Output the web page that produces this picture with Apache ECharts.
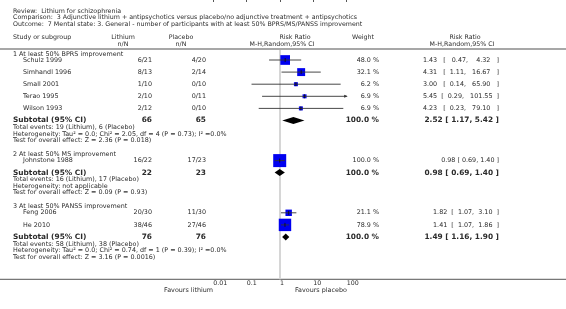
<!DOCTYPE html>
<html><head><meta charset="utf-8">
<script src="https://cdn.jsdelivr.net/npm/echarts@6/dist/echarts.min.js"></script>
<style>html,body{margin:0;padding:0;background:#fff}#c{width:566px;height:309px}</style>
</head><body><div id="c"></div>
<script>
// ---------- data ----------
const reviewTitle = "Review:  Lithium for schizophrenia";
const comparisonTitle = "Comparison:  3 Adjunctive lithium + antipsychotics versus placebo/no adjunctive treatment + antipsychotics";
const outcomeTitle = "Outcome:  7 Mental state: 3. General - number of participants with at least 50% BPRS/MS/PANSS improvement";

const groupLabels = ["1 At least 50% BPRS improvement", "2 At least 50% MS improvement", "3 At least 50% PANSS improvement"];
const studyNames = ["Schulz 1999", "Simhandl 1996", "Small 2001", "Terao 1995", "Wilson 1993", "Johnstone 1988", "Feng 2006", "He 2010"];
const studyGroup = [0, 0, 0, 0, 0, 1, 2, 2];
const lithiumEvents = [6, 8, 1, 2, 2, 16, 20, 38];
const lithiumTotal = [21, 13, 10, 10, 12, 22, 30, 46];
const placeboEvents = [4, 2, 0, 0, 0, 17, 11, 27];
const placeboTotal = [20, 14, 10, 11, 10, 23, 30, 46];
const studyWeight = [48.0, 32.1, 6.2, 6.9, 6.9, 100.0, 21.1, 78.9];
const studyRR = [1.43, 4.31, 3.00, 5.45, 4.23, 0.98, 1.82, 1.41];
const studyLow = [0.47, 1.11, 0.14, 0.29, 0.23, 0.69, 1.07, 1.07];
const studyHigh = [4.32, 16.67, 65.90, 101.55, 79.10, 1.40, 3.10, 1.86];

const subLithiumTotal = [66, 22, 76];
const subPlaceboTotal = [65, 23, 76];
const subWeight = [100.0, 100.0, 100.0];
const subRR = [2.52, 0.98, 1.49];
const subLow = [1.17, 0.69, 1.16];
const subHigh = [5.42, 1.40, 1.90];
const subLithiumEvents = [19, 16, 58];
const subPlaceboEvents = [6, 17, 38];
const heterogeneity = ["Tau\u00b2 = 0.0; Chi\u00b2 = 2.05, df = 4 (P = 0.73); I\u00b2 =0.0%", "not applicable", "Tau\u00b2 = 0.0; Chi\u00b2 = 0.74, df = 1 (P = 0.39); I\u00b2 =0.0%"];
const overallEffect = ["Z = 2.36 (P = 0.018)", "Z = 0.09 (P = 0.93)", "Z = 3.16 (P = 0.0016)"];

const tickValues = [0.01, 0.1, 1, 10, 100];
const tickLabels = ["0.01", "0.1", "1", "10", "100"];
const leftFavours = "Favours lithium";
const rightFavours = "Favours placebo";

// ---------- layout / style ----------
const FONT = '"DejaVu Sans", Verdana, sans-serif';
const TITLE = '6.3px ' + FONT;
const NORMAL = '6.4px ' + FONT;
const BOLD = 'bold 7.4px ' + FONT;
const TXT = '#2b2b2b';
const X = { left: 13, study: 23, lith: 152, plac: 206, weight: 379, rr: 499 };
const L = { groupTop: 54, hdrToStudy: 6, studyStep: 12.1, studyToSub: 12, subToEvents: 7, line: 6.6, testToGroup: 14 };
const rrColumnWidth = [76, 57.6, 66];   // rendered width of the study CI text, per subgroup
const XMIN = tickValues[0], XMAX = tickValues[tickValues.length - 1];
const AXIS_Y = 279.3;

const mctx = document.createElement('canvas').getContext('2d');
function measure(text, font) { mctx.font = font; return mctx.measureText(text).width; }

const graphics = [];
function T(x, y, text, font, align) {
  graphics.push({ type: 'text', x: x, y: y, silent: true,
    style: { text: text, font: font || NORMAL, fill: TXT, textAlign: align || 'left', align: align || 'left',
             textVerticalAlign: 'middle', verticalAlign: 'middle' } });
}
const f2 = v => v.toFixed(2);
const ci = (r, l, h) => f2(r) + ' [ ' + f2(l) + ', ' + f2(h) + ' ]';
// pad the gaps of a CI string with spaces so that it fills the given width
function padCI(r, l, h, width, font) {
  const parts = [f2(r), '[', f2(l) + ',', f2(h), ']'];
  const gaps = [1, 1, 1, 1];
  const sp = measure(' ', font);
  let w = measure(parts.join(' '), font);
  let k = 0;
  while (w + sp <= width + sp / 2) { gaps[[2, 3, 0, 1][k % 4]]++; w += sp; k++; }
  let s = parts[0];
  for (let i = 1; i < parts.length; i++) s += ' '.repeat(gaps[i - 1]) + parts[i];
  return s;
}

// titles and headers
T(X.left, 11, reviewTitle, TITLE);
T(X.left, 17.5, comparisonTitle, TITLE);
T(X.left, 24, outcomeTitle, TITLE);
T(X.left, 37, 'Study or subgroup', TITLE);
T(123, 37, 'Lithium', TITLE, 'center'); T(123, 44, 'n/N', TITLE, 'center');
T(181, 37, 'Placebo', TITLE, 'center'); T(181, 44, 'n/N', TITLE, 'center');
T(295, 37, 'Risk Ratio', TITLE, 'center'); T(282, 44, 'M-H,Random,95% CI', TITLE, 'center');
T(363, 37, 'Weight', TITLE, 'center');
T(465, 37, 'Risk Ratio', TITLE, 'center'); T(462, 44, 'M-H,Random,95% CI', TITLE, 'center');

graphics.push({ type: 'line', silent: true, shape: { x1: 0, y1: 49, x2: 566, y2: 49 }, style: { stroke: '#8a8a8a', lineWidth: 1.5 } });
graphics.push({ type: 'line', silent: true, shape: { x1: 0, y1: AXIS_Y, x2: 566, y2: AXIS_Y }, style: { stroke: '#555', lineWidth: 1 } });

const studyData = [];
const subData = [];
let y = L.groupTop;
groupLabels.forEach((g, gi) => {
  T(X.left, y, g);
  let sy = y + L.hdrToStudy - L.studyStep;
  studyNames.forEach((n, i) => {
    if (studyGroup[i] !== gi) return;
    sy += L.studyStep;
    T(X.study, sy, n);
    T(X.lith, sy, lithiumEvents[i] + '/' + lithiumTotal[i], NORMAL, 'right');
    T(X.plac, sy, placeboEvents[i] + '/' + placeboTotal[i], NORMAL, 'right');
    T(X.weight, sy, studyWeight[i].toFixed(1) + ' %', NORMAL, 'right');
    T(X.rr, sy, padCI(studyRR[i], studyLow[i], studyHigh[i], rrColumnWidth[gi], NORMAL), NORMAL, 'right');
    studyData.push([studyRR[i], studyLow[i], studyHigh[i], sy, studyWeight[i]]);
  });
  const suby = sy + L.studyToSub;
  T(X.left, suby, 'Subtotal (95% CI)', BOLD);
  T(X.lith, suby, String(subLithiumTotal[gi]), BOLD, 'right');
  T(X.plac, suby, String(subPlaceboTotal[gi]), BOLD, 'right');
  T(X.weight, suby, subWeight[gi].toFixed(1) + ' %', BOLD, 'right');
  T(X.rr, suby, ci(subRR[gi], subLow[gi], subHigh[gi]), BOLD, 'right');
  subData.push([subRR[gi], subLow[gi], subHigh[gi], suby]);
  const ey = suby + L.subToEvents;
  T(X.left, ey, 'Total events: ' + subLithiumEvents[gi] + ' (Lithium), ' + subPlaceboEvents[gi] + ' (Placebo)');
  T(X.left, ey + L.line, 'Heterogeneity: ' + heterogeneity[gi]);
  T(X.left, ey + 2 * L.line, 'Test for overall effect: ' + overallEffect[gi]);
  y = ey + 2 * L.line + L.testToGroup;
});

const chart = echarts.init(document.getElementById('c'), null, { renderer: 'canvas' });
const option = {
  animation: false,
  backgroundColor: '#fff',
  grid: { left: 213.3, width: 133.4, top: 0, height: AXIS_Y },
  xAxis: {
    type: 'log', logBase: 10, min: XMIN, max: XMAX,
    axisLine: { show: false },
    axisTick: { show: true, length: 2, lineStyle: { color: '#555', width: 1 } },
    axisLabel: { show: true, fontSize: 6.3, fontFamily: FONT, color: TXT, margin: 1.5, align: 'left',
      formatter: v => { const k = tickValues.findIndex(t => Math.abs(Math.log10(t) - Math.log10(v)) < 1e-6); return k >= 0 ? tickLabels[k] : ''; } },
    splitLine: { show: false }
  },
  yAxis: { type: 'value', min: 0, max: AXIS_Y, inverse: true, show: false },
  graphic: graphics.concat([
    { type: 'text', x: 213, y: 290.7, silent: true, style: { text: leftFavours, font: NORMAL, fill: TXT, textAlign: 'right', align: 'right', textVerticalAlign: 'middle', verticalAlign: 'middle' } },
    { type: 'text', x: 295, y: 290.7, silent: true, style: { text: rightFavours, font: NORMAL, fill: TXT, textAlign: 'left', align: 'left', textVerticalAlign: 'middle', verticalAlign: 'middle' } }
  ]),
  series: [
    { type: 'custom', clip: false, z: 1,
      data: [[1, 50, AXIS_Y]],
      encode: { x: 0, y: 1 },
      renderItem: (p, api) => {
        const a = api.coord([api.value(0), api.value(1)]);
        const b = api.coord([api.value(0), api.value(2)]);
        return { type: 'line', shape: { x1: a[0], y1: a[1], x2: b[0], y2: b[1] }, style: { stroke: '#d6d6d6', lineWidth: 2 } };
      } },
    { type: 'custom', clip: false, z: 3,
      data: studyData,
      encode: { x: 0, y: 3 },
      renderItem: (p, api) => {
        const rr = api.value(0), lo = api.value(1), hi = api.value(2), yy = api.value(3), w = api.value(4);
        const c = api.coord([rr, yy]);
        const x0 = api.coord([Math.max(lo, XMIN), yy])[0];
        const x1 = api.coord([Math.min(hi, XMAX), yy])[0];
        const s = Math.min(13, Math.max(4, 1.4 * Math.sqrt(w)));
        const ch = [
          { type: 'rect', shape: { x: c[0] - s / 2, y: c[1] - s / 2, width: s, height: s }, style: { fill: '#0000f0' } },
          { type: 'line', shape: { x1: x0, y1: c[1], x2: x1, y2: c[1] }, style: { stroke: '#333', lineWidth: 0.9 } },
          { type: 'line', shape: { x1: c[0], y1: c[1] - 2, x2: c[0], y2: c[1] + 2 }, style: { stroke: '#111', lineWidth: 0.9 } }
        ];
        if (hi > XMAX) ch.push({ type: 'polygon', shape: { points: [[x1 + 1, c[1]], [x1 - 2.5, c[1] - 1.5], [x1 - 2.5, c[1] + 1.5]] }, style: { fill: '#333' } });
        if (lo < XMIN) ch.push({ type: 'polygon', shape: { points: [[x0 - 1, c[1]], [x0 + 2.5, c[1] - 1.5], [x0 + 2.5, c[1] + 1.5]] }, style: { fill: '#333' } });
        return { type: 'group', children: ch };
      } },
    { type: 'custom', clip: false, z: 3,
      data: subData,
      encode: { x: 0, y: 3 },
      renderItem: (p, api) => {
        const yy = api.value(3);
        const c = api.coord([api.value(0), yy]);
        const l = api.coord([api.value(1), yy]);
        const h = api.coord([api.value(2), yy]);
        return { type: 'polygon', shape: { points: [[l[0], c[1]], [c[0], c[1] - 3.5], [h[0], c[1]], [c[0], c[1] + 3.5]] }, style: { fill: '#000' } };
      } }
  ]
};
chart.setOption(option);
</script></body></html>
